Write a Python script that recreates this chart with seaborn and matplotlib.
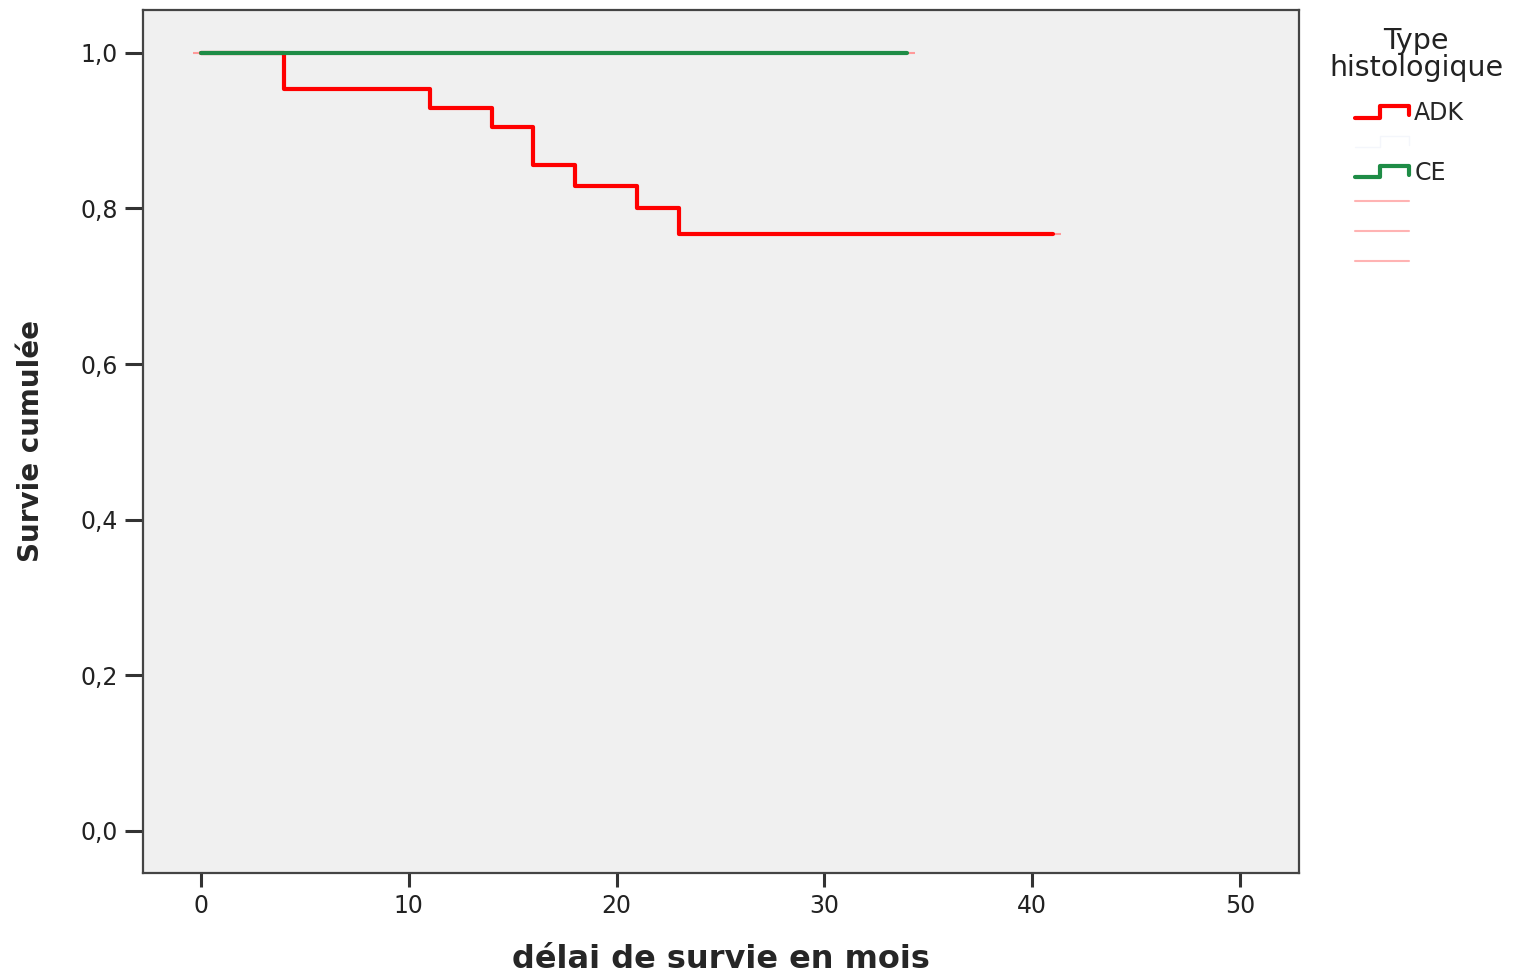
import pandas as pd
import seaborn as sns
import matplotlib
matplotlib.use("Agg")
import matplotlib.pyplot as plt
from matplotlib.lines import Line2D
from matplotlib.legend_handler import HandlerBase
from matplotlib.ticker import FuncFormatter

# survival curves
adk_mois = [0, 4, 11, 14, 16, 18, 21, 23, 41]
adk_survie = [1.0, 0.954, 0.929, 0.905, 0.856, 0.829, 0.801, 0.767, 0.767]
ce_mois = [0, 34]
ce_survie = [1.0, 1.0]

# censored observations (pale ticks)
cens_mois = [0, 30, 34, 41]
cens_survie = [1.0, 1.0, 1.0, 0.767]

xticks = [0, 10, 20, 30, 40, 50]
yticks = [0.0, 0.2, 0.4, 0.6, 0.8, 1.0]

df = pd.concat([
    pd.DataFrame({"mois": adk_mois, "survie": adk_survie, "type": "ADK"}),
    pd.DataFrame({"mois": ce_mois, "survie": ce_survie, "type": "CE"}),
])
cens = pd.DataFrame({"mois": cens_mois, "survie": cens_survie})

sns.set_style("white")
plt.rcParams["font.family"] = ["DejaVu Sans"]

fig = plt.figure(figsize=(15.21, 9.73), dpi=100)
ax = fig.add_axes([0.094, 0.1028, 0.76, 0.887])
ax.set_facecolor("#f0f0f0")

palette = {"ADK": "#ff0000", "CE": "#1e8c46"}
sns.lineplot(data=df, x="mois", y="survie", hue="type", palette=palette,
             drawstyle="steps-post", estimator=None, linewidth=3.0,
             legend=False, ax=ax)
sns.scatterplot(data=cens, x="mois", y="survie", marker="_", s=120,
                color="#ff9a9a", linewidth=1.5, ax=ax, zorder=1)

ax.set_xlim(-2.79, 52.84)
ax.set_ylim(-0.054, 1.055)
ax.set_xticks(xticks)
ax.set_yticks(yticks)
ax.yaxis.set_major_formatter(FuncFormatter(lambda v, p: f"{v:.1f}".replace(".", ",")))
ax.tick_params(axis="both", direction="out", width=2.2, color="#333333",
               labelsize=17, labelcolor="#222222", bottom=True, left=True)
ax.tick_params(axis="x", length=10, pad=5)
ax.tick_params(axis="y", length=13, pad=5)
for s in ax.spines.values():
    s.set_color("#444444")
    s.set_linewidth(1.6)

ax.set_xlabel("délai de survie en mois", fontsize=23, fontweight="bold")
ax.set_ylabel("Survie cumulée", fontsize=20, fontweight="bold")
ax.xaxis.set_label_coords(0.5, -0.082)
ax.yaxis.set_label_coords(-0.085, 0.5)


class StepHandler(HandlerBase):
    def create_artists(self, legend, orig_handle, xdescent, ydescent,
                       width, height, fontsize, trans):
        x0, y0 = -xdescent, -ydescent
        xs = [x0, x0 + 0.45 * width, x0 + 0.45 * width, x0 + width, x0 + width]
        ys = [y0 + 0.15 * height, y0 + 0.15 * height, y0 + 0.85 * height,
              y0 + 0.85 * height, y0 + 0.3 * height]
        ln = Line2D(xs, ys, color=orig_handle.get_color(),
                    linewidth=orig_handle.get_linewidth(), transform=trans)
        return [ln]


h_adk = Line2D([], [], color="#ff0000", linewidth=3.0)
h_blank = Line2D([], [], color="#f4f6fb", linewidth=1.0)
h_ce = Line2D([], [], color="#1e8c46", linewidth=3.0)
h_c1 = Line2D([], [], color="#ffb3b3", linewidth=1.5)
h_c2 = Line2D([], [], color="#ffb3b3", linewidth=1.5)
h_c3 = Line2D([], [], color="#ffb3b3", linewidth=1.5)

fig.text(1416 / 1521, 1 - 27 / 973, "Type\nhistologique", ha="center", va="top",
         fontsize=20.5, linespacing=0.95, color="#222222")
leg = fig.legend([h_adk, h_blank, h_ce, h_c1, h_c2, h_c3],
                 ["ADK", "", "CE", "", "", ""],
                 handler_map={h_adk: StepHandler(), h_blank: StepHandler(), h_ce: StepHandler()},
                 fontsize=17, loc="upper left", bbox_to_anchor=(0.877, 0.918),
                 frameon=False, handlelength=2.3, handletextpad=0.2,
                 labelspacing=0.25)

fig.savefig("out.png", dpi=100, facecolor="white")
